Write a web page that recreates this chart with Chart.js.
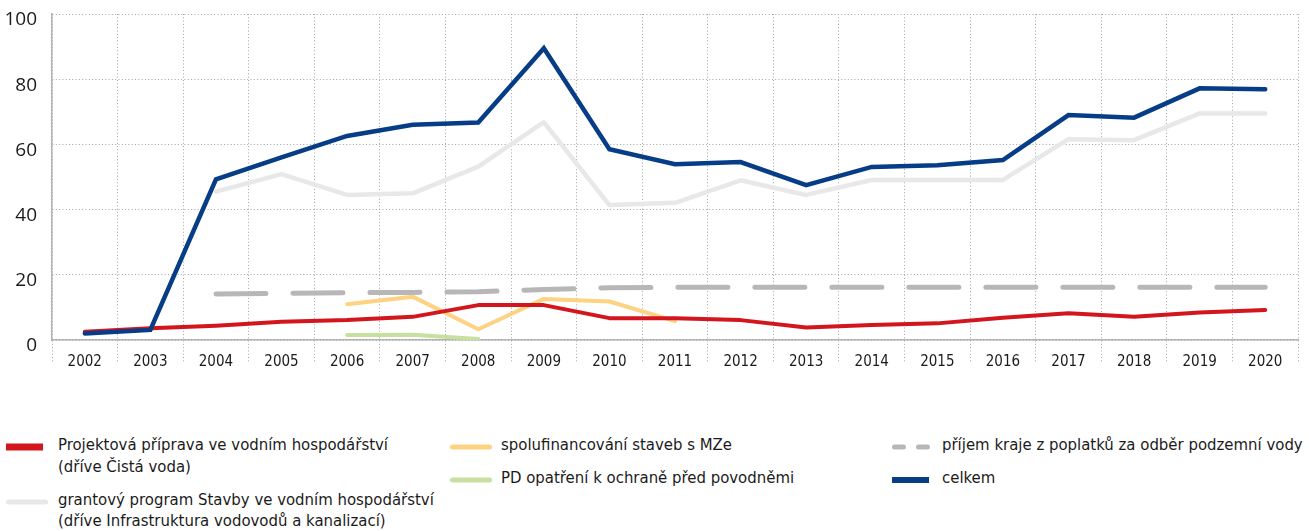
<!DOCTYPE html>
<html lang="cs">
<head>
<meta charset="utf-8">
<title>Vodní hospodářství</title>
<script src="https://cdn.jsdelivr.net/npm/chart.js@4.4.1/dist/chart.umd.min.js"></script>
<style>
    html, body { margin: 0; padding: 0; background: #fff; }
    #wrap { position: relative; width: 1309px; height: 531px; overflow: hidden; }
    #chartBox { position: absolute; left: 0; top: 0; width: 1309px; height: 380px; }
    #legend {
        position: absolute; left: 0; top: 434px; width: 1309px;
        font-family: 'DejaVu Sans Condensed', sans-serif;
        font-size: 16.6px; line-height: 21.5px; color: #1b1b1b;
        white-space: nowrap;
    }
    .legend-col { position: absolute; top: 0; display: flex; flex-direction: column; gap: 11.5px; }
    .legend-item { position: relative; }
    .legend-item canvas { position: absolute; top: 0; }
</style>
</head>
<body>
<div id="wrap">
    <div id="chartBox"><canvas id="chart"></canvas></div>
    <div id="legend"></div>
</div>
<script>
const years = ['2002', '2003', '2004', '2005', '2006', '2007', '2008', '2009', '2010', '2011',
               '2012', '2013', '2014', '2015', '2016', '2017', '2018', '2019', '2020'];

const projektova = [2.5, 3.6, 4.4, 5.6, 6.1, 7.1, 10.7, 10.7, 6.7, 6.7, 6.1, 3.8, 4.6, 5.1, 6.8, 8.2, 7.1, 8.4, 9.2];
const grantovy = [null, null, 45.5, 50.9, 44.5, 45.0, 53.2, 66.8, 41.4, 42.1, 49.0, 44.5, 49.1, 49.1, 49.1, 61.6, 61.3, 69.5, 69.5];
const spolufinancovani = [null, null, null, null, 11.0, 13.3, 3.3, 12.6, 11.8, 5.8, null, null, null, null, null, null, null, null, null];
const povodne = [null, null, null, null, 1.5, 1.6, 0.3, null, null, null, null, null, null, null, null, null, null, null, null];
const poplatky = [null, null, 14.1, 14.3, 14.5, 14.6, 14.8, 15.5, 16.0, 16.2, 16.2, 16.2, 16.2, 16.2, 16.2, 16.2, 16.2, 16.2, 16.2];
const celkem = [2.0, 3.1, 49.3, 56.0, 62.6, 66.0, 66.7, 89.5, 58.5, 53.9, 54.6, 47.5, 53.1, 53.6, 55.2, 69.0, 68.2, 77.2, 76.9];

const yTicks = [0, 20, 40, 60, 80, 100];

const legendNames = [
    ['Projektová příprava ve vodním hospodářství', '(dříve Čistá voda)'],
    ['grantový program Stavby ve vodním hospodářství', '(dříve Infrastruktura vodovodů a kanalizací)'],
    ['spolufinancování staveb s MZe'],
    ['PD opatření k ochraně před povodněmi'],
    ['příjem kraje z poplatků za odběr podzemní vody'],
    ['celkem']
];

function line(label, data, color, width, extra) {
    return Object.assign({
        label: label,
        data: data,
        borderColor: color,
        backgroundColor: color,
        borderWidth: width,
        pointRadius: 0,
        pointHoverRadius: 0,
        tension: 0,
        fill: false,
        spanGaps: false,
        borderCapStyle: 'round',
        borderJoinStyle: 'round'
    }, extra || {});
}

const datasets = [
    line(legendNames[0].join(' '), projektova, '#d3151d', 4, { order: 2, legendWidth: 7, legendCap: 'butt' }),
    line(legendNames[1].join(' '), grantovy, '#e8e8e8', 4.5, { order: 6, legendWidth: 5, legendCap: 'round' }),
    line(legendNames[2].join(' '), spolufinancovani, '#fdd282', 4, { order: 3, legendWidth: 5, legendCap: 'round' }),
    line(legendNames[3].join(' '), povodne, '#c7df9f', 4, { order: 4, legendWidth: 5, legendCap: 'round' }),
    line(legendNames[4].join(' '), poplatky, '#b7b7b7', 5, { order: 5, borderDash: [50, 27], legendWidth: 5, legendCap: 'round' }),
    line(legendNames[5].join(' '), celkem, '#063d86', 4.5, { order: 1, borderJoinStyle: 'miter', legendWidth: 6, legendCap: 'butt' })
];

const gridColor = '#a3a3a3';
const axisColor = '#b3b3b3';

const chart = new Chart(document.getElementById('chart'), {
    type: 'line',
    data: { labels: years, datasets: datasets },
    options: {
        responsive: true,
        maintainAspectRatio: false,
        animation: false,
        events: [],
        layout: { padding: { top: 14, right: 11, bottom: 0, left: 0 } },
        plugins: {
            legend: { display: false },
            tooltip: { enabled: false }
        },
        scales: {
            x: {
                offset: true,
                grid: {
                    offset: true,
                    color: gridColor,
                    lineWidth: 1,
                    drawTicks: true,
                    tickLength: 23,
                    tickColor: gridColor,
                    tickBorderDash: [1, 2.3]
                },
                border: { display: true, color: axisColor, width: 1.5, dash: [1, 2.3] },
                ticks: {
                    autoSkip: false,
                    maxRotation: 0,
                    padding: -10,
                    color: '#1b1b1b',
                    font: { family: "'DejaVu Sans Condensed', sans-serif", size: 15 }
                },
                afterFit(scale) { scale.height = 40; }
            },
            y: {
                min: 0,
                max: 100,
                afterBuildTicks(scale) { scale.ticks = yTicks.map(v => ({ value: v })); },
                grid: { color: gridColor, lineWidth: 1, drawTicks: false },
                border: { display: true, color: axisColor, width: 1.5, dash: [1, 2.3] },
                ticks: {
                    padding: 15,
                    labelOffset: 6,
                    color: '#1b1b1b',
                    font: { family: "'Open Sans', sans-serif", size: 19 }
                },
                afterFit(scale) {
                    scale.width = 52;
                    scale.paddingTop = 0;
                }
            }
        }
    }
});

// HTML legend built from the chart's datasets, three columns of two
const legendEl = document.getElementById('legend');
const colX = [6, 450, 892];
const textX = [52, 51, 50];
chart.data.datasets.forEach((ds, i) => {
    const col = Math.floor(i / 2);
    let colEl = document.getElementById('legcol' + col);
    if (!colEl) {
        colEl = document.createElement('div');
        colEl.className = 'legend-col';
        colEl.id = 'legcol' + col;
        colEl.style.left = colX[col] + 'px';
        legendEl.appendChild(colEl);
    }
    const item = document.createElement('div');
    item.className = 'legend-item';
    item.style.paddingLeft = textX[col] + 'px';
    legendNames[i].forEach(t => {
        const row = document.createElement('div');
        row.textContent = t;
        item.appendChild(row);
    });

    const sw = document.createElement('canvas');
    sw.width = 42;
    sw.height = 12;
    sw.style.left = '0px';
    sw.style.top = '7px';
    const c = sw.getContext('2d');
    c.strokeStyle = ds.borderColor;
    c.lineWidth = ds.legendWidth;
    c.lineCap = ds.legendCap;
    if (ds.borderDash) {
        c.setLineDash([9, 15]);
        c.beginPath(); c.moveTo(2.5, 6); c.lineTo(39.5, 6); c.stroke();
    } else if (ds.legendCap === 'butt') {
        c.beginPath(); c.moveTo(0, 6); c.lineTo(37, 6); c.stroke();
    } else {
        c.beginPath(); c.moveTo(2.5, 6); c.lineTo(39.5, 6); c.stroke();
    }
    item.appendChild(sw);
    colEl.appendChild(item);
});
</script>
</body>
</html>
